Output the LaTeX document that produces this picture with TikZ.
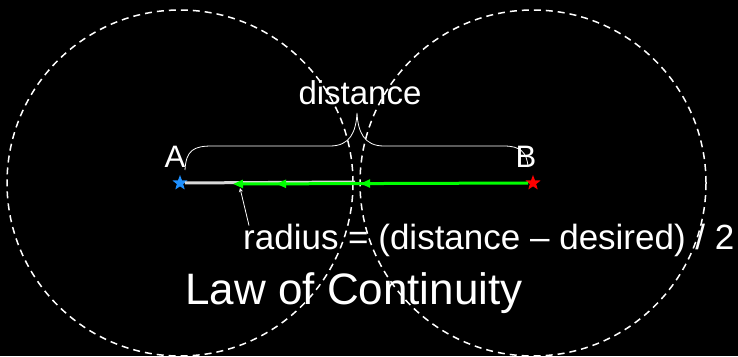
\documentclass[tikz,border=0pt]{standalone}
\usepackage{fontspec}
\setmainfont{Liberation Sans}
\usetikzlibrary{shapes.geometric,arrows.meta,decorations.markings}
\begin{document}
\begin{tikzpicture}[x=1pt,y=-1pt,>=stealth,
  ring/.style={draw=white, line width=1.5pt, dash pattern=on 7pt off 5pt},
  endstar/.style={star, star points=5, star point ratio=2.4, minimum size=16pt, inner sep=0pt},
  lbl/.style={text=white, inner sep=0pt},
  greentip/.style={-{Triangle[length=10pt,width=8pt]}},
  greenpush/.style={draw=green, line width=3pt, greentip, postaction=decorate,
    decoration={markings,
      mark=at position 168pt with {\arrow[green]{Triangle[length=10pt,width=8pt]}},
      mark=at position 252pt with {\arrow[green]{Triangle[length=10pt,width=8pt]}}}}]
\fill[black] (0,0) rectangle (738,356);
\useasboundingbox (0,0) rectangle (738,356);
\node[endstar, fill={rgb,255:red,30;green,144;blue,255}] (sa) at (180,183) {};
\node[endstar, fill=red] (sb) at (533,183) {};
\draw[ring] (sa.center) circle[radius=173pt];
\draw[ring] (sb.center) circle[radius=173pt];
\node[lbl, font=\fontsize{31}{31}\selectfont] (la) at (175,157) {A};
\node[lbl, font=\fontsize{31}{31}\selectfont] (lb) at (526,157) {B};
\node[lbl, font=\fontsize{33}{33}\selectfont] (dist) at (360,93) {distance};
\coordinate (me) at (233,184);
\coordinate (ov) at (355,182);
% the brace over A--B
\draw[white, line width=0.8pt] (185,170) .. controls (186,150) and (194,146) .. (212,146)
  -- (330,146) .. controls (350,146) and (356,132) .. (357,113)
  .. controls (358,132) and (364,146) .. (384,146)
  -- (504,146) .. controls (520,146) and (527,152) .. (528,167);
\draw[white!85!black, line width=3pt] (sa) -- (ov);
\draw[greenpush] (sb) -- (me);
\node[lbl, anchor=west, font=\fontsize{35}{35}\selectfont] (rad) at (243,240)
  {radius = (distance \textendash{} desired) / 2};
\draw[->, white, line width=0.8pt] (rad.north west) ++(6,2) coordinate (rt) -- (240,188);
\node[lbl, font=\fontsize{44}{44}\selectfont] (law) at (354,293) {Law of Continuity};
\end{tikzpicture}
\end{document}
